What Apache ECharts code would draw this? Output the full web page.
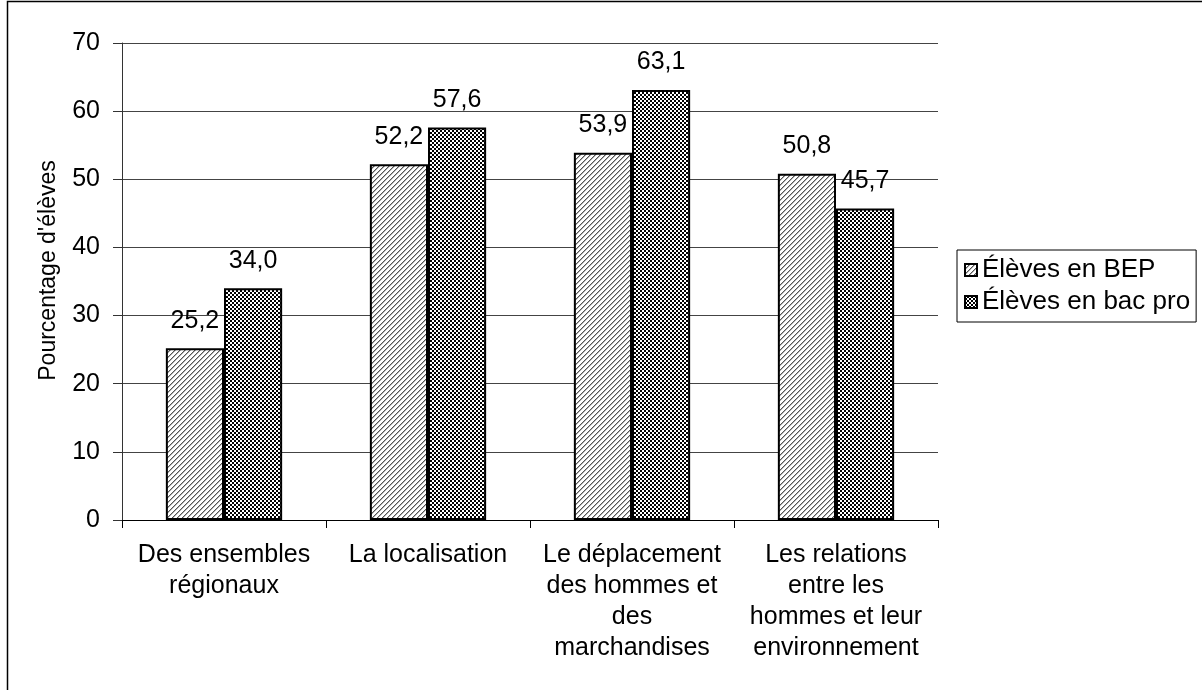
<!DOCTYPE html>
<html>
<head>
<meta charset="utf-8">
<script src="https://cdn.jsdelivr.net/npm/echarts@6/dist/echarts.min.js"></script>
<style>
  html, body { margin: 0; padding: 0; background: #fff; }
  #chart { width: 1202px; height: 690px; }
</style>
</head>
<body>
<div id="chart"></div>
<script>
var categories = [
  'Des ensembles\nrégionaux',
  'La localisation',
  'Le déplacement\ndes hommes et\ndes\nmarchandises',
  'Les relations\nentre les\nhommes et leur\nenvironnement'
]
var seriesNames = ['Élèves en BEP', 'Élèves en bac pro']
var bepValues = [25.2, 52.2, 53.9, 50.8]
var bacProValues = [34.0, 57.6, 63.1, 45.7]

// motifs de remplissage (hachures et damier)
function hatchPattern () {
  var c = document.createElement('canvas')
  c.width = c.height = 5
  var ctx = c.getContext('2d')
  ctx.fillStyle = '#fff'
  ctx.fillRect(0, 0, 5, 5)
  for (var i = 0; i < 5; i++) {
    ctx.fillStyle = '#555'
    ctx.fillRect(i, 4 - i, 1, 1)
    ctx.fillStyle = '#b0b0b0'
    ctx.fillRect((i + 1) % 5, 4 - i, 1, 1)
  }
  return c
}
function checkerPattern () {
  var c = document.createElement('canvas')
  c.width = c.height = 4
  var ctx = c.getContext('2d')
  ctx.fillStyle = '#000'
  ctx.fillRect(0, 0, 4, 4)
  ctx.fillStyle = '#fff'
  ctx.fillRect(0, 0, 2, 2)
  ctx.fillRect(2, 2, 2, 2)
  return c
}

var font = 'Liberation Sans, Arial, sans-serif'

function barSeries (name, values, pattern) {
  return {
    name: name,
    type: 'bar',
    barGap: 0,
    barCategoryGap: '43%',
    itemStyle: {
      color: { image: pattern, repeat: 'repeat' },
      borderColor: '#000',
      borderWidth: 2
    },
    label: {
      show: true,
      position: 'top',
      distance: 15,
      color: '#000',
      fontFamily: font,
      fontSize: 25,
      formatter: function (p) {
        return p.value.toFixed(1).replace('.', ',')
      }
    },
    data: values
  }
}

var myChart = echarts.init(document.getElementById('chart'))
myChart.setOption({
  backgroundColor: '#fff',
  animation: false,
  graphic: [{
    type: 'rect',
    shape: { x: 7.5, y: 1.5, width: 1300, height: 800 },
    style: { fill: 'none', stroke: '#000', lineWidth: 1.5 },
    silent: true
  }],
  grid: {
    left: 122,
    right: 264,
    top: 43,
    bottom: 170
  },
  legend: {
    orient: 'vertical',
    left: 957,
    top: 250,
    padding: [7, 6, 7, 7],
    itemGap: 6,
    itemWidth: 12,
    itemHeight: 12,
    borderColor: '#000',
    borderWidth: 1,
    icon: 'rect',
    textStyle: { fontFamily: font, fontSize: 26, color: '#000' },
    data: seriesNames
  },
  xAxis: {
    type: 'category',
    data: categories,
    axisLine: { lineStyle: { color: '#000', width: 1 } },
    axisTick: { show: true, length: 8, lineStyle: { color: '#000' } },
    axisLabel: {
      interval: 0,
      margin: 20,
      color: '#000',
      fontFamily: font,
      fontSize: 25,
      lineHeight: 31,
      align: 'center'
    }
  },
  yAxis: {
    type: 'value',
    min: 0,
    max: 70,
    interval: 10,
    name: "Pourcentage d'élèves",
    nameLocation: 'middle',
    nameGap: 62,
    nameTextStyle: { fontFamily: font, fontSize: 23, color: '#000', padding: [0, 0, 0, 22] },
    axisLine: { show: true, lineStyle: { color: '#333', width: 1 } },
    axisTick: { show: true, length: 9, lineStyle: { color: '#333' } },
    axisLabel: { margin: 22, color: '#000', fontFamily: font, fontSize: 25 },
    splitLine: { lineStyle: { color: '#444', width: 1 } }
  },
  series: [
    barSeries(seriesNames[0], bepValues, hatchPattern()),
    barSeries(seriesNames[1], bacProValues, checkerPattern())
  ]
})
</script>
</body>
</html>
